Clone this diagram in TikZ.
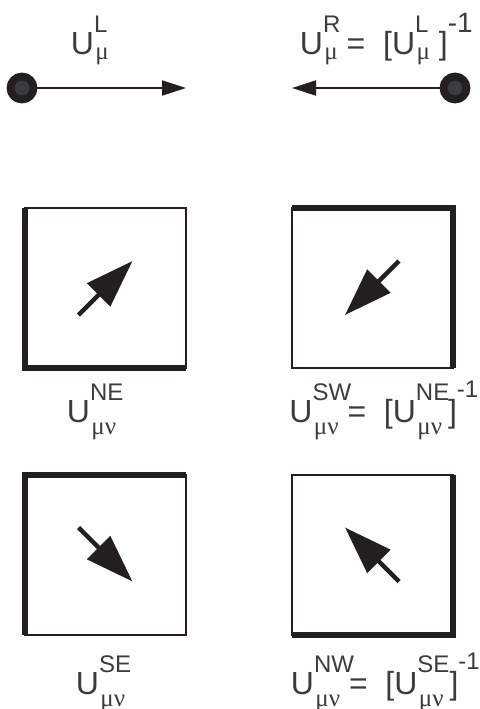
\documentclass[tikz,border=0pt]{standalone}
\usepackage{fontspec}
\setmainfont{Liberation Sans}
\newfontfamily\grk{Liberation Serif}
\usetikzlibrary{arrows.meta}

\definecolor{ink}{HTML}{231F20}
\definecolor{dotfill}{HTML}{3A3A40}
\definecolor{txt}{HTML}{3C3C3C}

\newcommand{\idx}{\fontsize{12}{12}\selectfont}
\newcommand{\gidx}{\fontsize{12.5}{12.5}\selectfont\grk}
% U with an upper and a lower index
\newcommand{\Uidx}[4]{U\rlap{\raisebox{#1}{\idx #3}}\raisebox{-#2}{\kern.7pt\gidx #4}}
\newcommand{\Ulink}[2]{\Uidx{11pt}{2.5pt}{#1}{#2}}
\newcommand{\Uplaq}[2]{\Uidx{11pt}{6pt}{#1}{#2}}
\newcommand{\inv}[2]{\raisebox{#1}{\fontsize{#2}{#2}\selectfont -1}}

\begin{document}
\begin{tikzpicture}[
  x=0.5pt, y=-0.5pt,
  site/.style={
    circle,
    draw=ink,
    fill=dotfill,
    line width=3.9pt,
    minimum size=11.5pt,
    inner sep=0pt
  },
  link/.style={
    draw=ink,
    line width=1pt,
    -{Triangle[length=12pt,width=7.5pt]}
  },
  plaq/.style={
    rectangle,
    draw=ink,
    line width=1pt,
    minimum width=80.5pt,
    minimum height=80pt,
    inner sep=0pt,
    outer sep=0pt
  },
  heavy/.style={
    draw=ink,
    line width=3pt
  },
  flux/.style={
    draw=ink,
    line width=2.2pt,
    -{Triangle[length=24pt,width=16pt]}
  },
  lab/.style={
    anchor=base west,
    inner sep=0pt,
    text=txt,
    font=\fontsize{16}{16}\selectfont
  }
]

\useasboundingbox (0,0) rectangle (480,709);

% Links
\node[site] (siteL) at (22,88) {};
\coordinate (tipL) at (186,88);
\draw[link] (siteL) -- (tipL);

\node[site] (siteR) at (455,88) {};
\coordinate (tipR) at (292,88);
\draw[link] (siteR) -- (tipR);

\node[lab] (labL) at (70.5,54) {\Ulink{L}{μ}};
\node[lab] (labR) at (299.5,54) {\Ulink{R}{μ} = \ [\Ulink{L}{μ} ]\inv{11pt}{14}};

% Plaquettes
\foreach \nm/\cx/\cy in {NE/105.5/288, SW/372/288, SE/105.5/554.5, NW/372/554.5} {
  \node[plaq] (p\nm) at (\cx,\cy) {};
}

% Heavy edges
\draw[heavy] (pNE.north west) -- (pNE.south west) -- (pNE.south east);
\draw[heavy] (pSW.north west) -- (pSW.north east) -- (pSW.south east);
\draw[heavy] (pSE.south west) -- (pSE.north west) -- (pSE.north east);
\draw[heavy] (pNW.north east) -- (pNW.south east) -- (pNW.south west);

% Arrows in the plaquettes
\foreach \nm/\dx/\dy in {NE/1/-1, SW/-1/1, SE/1/1, NW/-1/-1} {
  \draw[flux] ([shift={({-27*\dx},{-27*\dy})}]p\nm.center)
    -- ([shift={({27*\dx},{27*\dy})}]p\nm.center);
}

\node[lab] (labNE) at (66.5,422) {\Uplaq{NE}{μν}};
\node[lab] (labSW) at (289,422) {\Uplaq{SW}{μν} = \ [\Uplaq{NE}{μν}\hspace{3pt}]\inv{12.5pt}{12}};
\node[lab] (labSE) at (75.5,694) {\Uplaq{SE}{μν}};
\node[lab] (labNW) at (290.5,694) {\Uplaq{NW}{μν} = \ [\Uplaq{SE}{μν}\hspace{3pt}]\inv{12.5pt}{12}};

\end{tikzpicture}
\end{document}
